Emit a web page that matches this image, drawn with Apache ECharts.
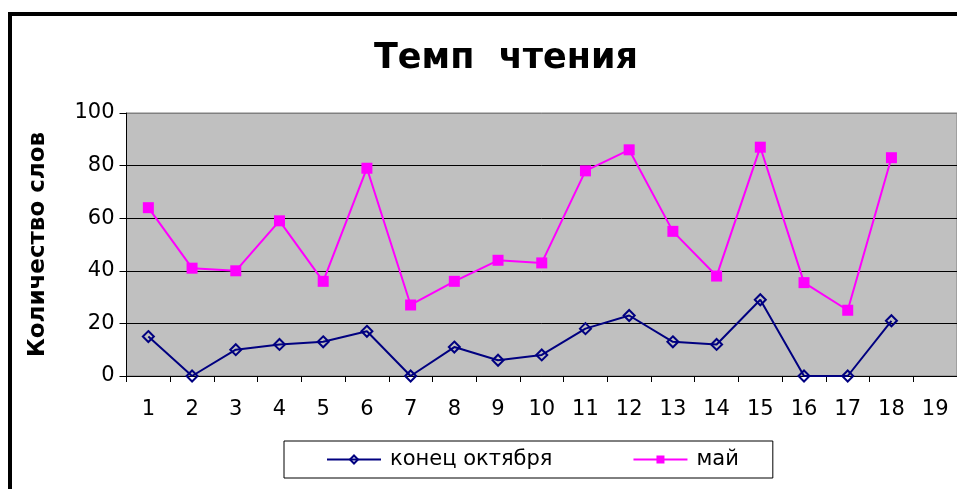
<!DOCTYPE html>
<html>
<head>
<meta charset="utf-8">
<script src="https://cdn.jsdelivr.net/npm/echarts@6/dist/echarts.min.js"></script>
<style>
html,body{margin:0;padding:0;background:#fff;}
#chart{width:957px;height:489px;}
</style>
</head>
<body>
<div id="chart"></div>
<script>
const categories = ['1','2','3','4','5','6','7','8','9','10','11','12','13','14','15','16','17','18','19'];
const octoberValues = [15, 0, 10, 12, 13, 17, 0, 11, 6, 8, 18, 23, 13, 12, 29, 0, 0, 21];
const mayValues = [64, 41, 40, 59, 36, 79, 27, 36, 44, 43, 78, 86, 55, 38, 87, 35.5, 25, 83];
const yTicks = [0, 20, 40, 60, 80, 100];
const seriesNames = ['конец октября', 'май'];
const titleText = 'Темп  чтения';
const yAxisName = 'Количество слов';

const FONT = "'DejaVu Sans', 'Liberation Sans', Arial, sans-serif";
const chart = echarts.init(document.getElementById('chart'), null, {renderer: 'canvas'});
chart.setOption({
  animation: false,
  backgroundColor: '#ffffff',
  title: {
    text: titleText,
    left: 506,
    top: 41,
    padding: 0,
    textAlign: 'center',
    textStyle: {fontFamily: FONT, fontWeight: 'bold', fontSize: 35, color: '#000'}
  },
  graphic: [{
    type: 'polyline',
    shape: {points: [[10, 489], [10, 14], [957, 14]]},
    style: {stroke: '#000', lineWidth: 4, fill: null},
    silent: true
  }],
  legend: {
    left: 284,
    top: 441,
    padding: [8, 34, 8, 42],
    borderColor: '#000',
    borderWidth: 1,
    itemWidth: 54,
    itemHeight: 10,
    itemGap: 80,
    textStyle: {fontFamily: FONT, fontSize: 21, color: '#000', padding: [0, 0, 0, 4]},
    data: seriesNames
  },
  grid: {
    left: 126.5,
    top: 113,
    width: 836,
    height: 263,
    show: true,
    backgroundColor: '#C0C0C0',
    borderColor: '#808080',
    borderWidth: 1,
    containLabel: false
  },
  xAxis: {
    type: 'category',
    data: categories,
    boundaryGap: true,
    axisLine: {lineStyle: {color: '#000', width: 1}},
    axisTick: {show: true, interval: 0, length: 6, lineStyle: {color: '#000'}},
    axisLabel: {interval: 0, margin: 23, fontFamily: FONT, fontSize: 21, color: '#000'},
    splitLine: {show: false}
  },
  yAxis: {
    type: 'value',
    min: yTicks[0],
    max: yTicks[yTicks.length - 1],
    interval: 20,
    name: yAxisName,
    nameLocation: 'middle',
    nameRotate: 90,
    nameGap: 77,
    nameTextStyle: {fontFamily: FONT, fontWeight: 'bold', fontSize: 23, color: '#000'},
    axisLine: {show: true, lineStyle: {color: '#000', width: 1}},
    axisTick: {show: true, length: 7, lineStyle: {color: '#000'}},
    axisLabel: {margin: 12, fontFamily: FONT, fontSize: 21, color: '#000'},
    splitLine: {show: true, lineStyle: {color: ['#000', '#000', '#000', '#000', '#000', '#808080'], width: 1}}
  },
  series: [
    {
      name: seriesNames[0],
      type: 'line',
      data: octoberValues,
      symbol: 'diamond',
      symbolSize: 11,
      showAllSymbol: true,
      lineStyle: {color: '#000080', width: 2},
      itemStyle: {color: 'rgba(0,0,0,0)', borderColor: '#000080', borderWidth: 2},
      emphasis: {disabled: true},
      z: 3
    },
    {
      name: seriesNames[1],
      type: 'line',
      data: mayValues,
      symbol: 'rect',
      symbolSize: 11,
      showAllSymbol: true,
      lineStyle: {color: '#FF00FF', width: 2},
      itemStyle: {color: '#FF00FF', borderColor: '#FF00FF', borderWidth: 0},
      emphasis: {disabled: true},
      z: 2
    }
  ]
});
</script>
</body>
</html>
